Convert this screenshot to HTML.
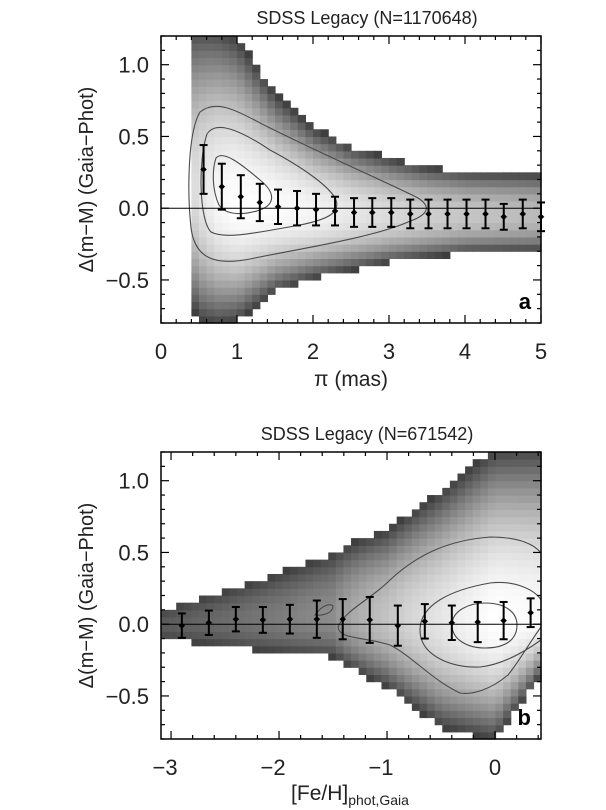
<!DOCTYPE html>
<html><head><meta charset="utf-8"><style>
html,body{margin:0;padding:0;background:#fff;}
svg{display:block;font-family:"Liberation Sans",sans-serif;}
</style></head><body>
<svg id="fig" width="606" height="810" viewBox="0 0 606 810" xmlns="http://www.w3.org/2000/svg">
<g id="pa"></g>
<g id="pb"></g>
</svg>
<script>
// ---- Panel a data ----
const aKnotX   = [0.4, 0.5, 0.75, 1.0, 1.5, 2.0, 2.5, 3.0, 3.5, 4.0, 4.5, 5.0];
const aAmp     = [0.45,0.55,0.85, 1.0, 0.95,0.8, 0.62,0.48, 0.38, 0.32,0.28,0.25];
const aCenter  = [0.15,0.12,0.06, 0.02,0.0, -0.03,-0.04,-0.05,-0.05,-0.05,-0.05,-0.05];
const aSigUp   = [0.45,0.45,0.44, 0.42,0.29, 0.22,0.18,0.16,0.14,0.13,0.13,0.13];
const aSigDn   = [0.33,0.35,0.32, 0.29,0.21,0.17,0.15,0.13,0.12,0.11,0.11,0.11];
const aPtX     = [0.56,0.8,1.05,1.3,1.54,1.79,2.04,2.29,2.54,2.78,3.03,3.28,3.52,3.77,4.02,4.27,4.51,4.76,5.0];
const aPtY     = [0.27,0.15,0.08,0.04,0.01,0.0,-0.01,-0.02,-0.03,-0.03,-0.03,-0.04,-0.04,-0.04,-0.04,-0.04,-0.06,-0.04,-0.06];
const aPtErr   = [0.17,0.16,0.15,0.13,0.12,0.12,0.11,0.1,0.1,0.1,0.1,0.1,0.1,0.1,0.1,0.1,0.09,0.1,0.1];
const aXTicks  = ["0","1","2","3","4","5"];
const aYTicks  = ["−0.5","0.0","0.5","1.0"];
// ---- Panel b data ----
const bKnotX   = [-3.1,-2.5,-2.0,-1.5,-1.0,-0.5,0.0,0.42];
const bAmp     = [0.035,0.05,0.07,0.1, 0.3, 0.6, 1.0,0.9];
const bCenter  = [0.0, 0.02,0.04,0.06,0.05,0.04,0.03,0.05];
const bSigUp   = [0.094,0.16,0.2,0.24,0.26,0.34,0.43,0.43];
const bSigDn   = [0.094,0.13,0.15,0.16,0.21,0.29,0.3,0.15];
const bPtX     = [-2.9,-2.65,-2.4,-2.15,-1.9,-1.65,-1.41,-1.16,-0.9,-0.65,-0.4,-0.16,0.08,0.33];
const bPtY     = [-0.01,0.01,0.035,0.03,0.035,0.035,0.035,0.03,-0.01,0.02,0.01,0.015,0.025,0.08];
const bPtErr   = [0.085,0.085,0.085,0.09,0.1,0.13,0.14,0.16,0.14,0.12,0.12,0.14,0.13,0.1];
const bXTicks  = ["−3","−2","−1","0"];
const bYTicks  = ["−0.5","0.0","0.5","1.0"];

const NS="http://www.w3.org/2000/svg";
function mk(tag,attrs,parent){const e=document.createElementNS(NS,tag);for(const k in attrs)e.setAttribute(k,attrs[k]);parent.appendChild(e);return e;}
function lerp(kx,kv,x){if(x<=kx[0])return kv[0];for(let i=1;i<kx.length;i++){if(x<=kx[i]){const t=(x-kx[i-1])/(kx[i]-kx[i-1]);return kv[i-1]+t*(kv[i]-kv[i-1]);}}return kv[kv.length-1];}

function panel(g,o){
  const sx=v=>o.x0+(v-o.xmin)/(o.xmax-o.xmin)*(o.x1-o.x0);
  const sy=v=>o.y1-(v-o.ymin)/(o.ymax-o.ymin)*(o.y1-o.y0);
  const hm=mk('g',{},g);
  
  
  const thr=o.thr;
  for(let x=o.hxStart;x<o.xmax-1e-9;x+=o.bx){
    const xc=x+o.bx/2;
    const A=lerp(o.kx,o.amp,xc),c=lerp(o.kx,o.cen,xc),su=lerp(o.kx,o.su,xc),sd=lerp(o.kx,o.sd,xc);
    for(let y=o.ymin;y<o.ymax-1e-9;y+=o.by){
      const yc=y+o.by/2,d=yc-c,s=d>0?su:sd;
      const I=A*Math.exp(-0.5*(d/s)*(d/s));
      if(I<thr)continue;
      let t=Math.log(I/thr)/Math.log(1/thr);t=Math.max(0,Math.min(1,t));
      const gv=Math.round(62+t*193);
      const r=mk('rect',{x:sx(x).toFixed(2),y:sy(y+o.by).toFixed(2),width:(sx(x+o.bx)-sx(x)+0.6).toFixed(2),height:(sy(y)-sy(y+o.by)+0.6).toFixed(2),fill:`rgb(${gv},${gv},${gv})`},hm);
      
      
    }
  }
  o.contours.forEach(p=>{const e=mk('path',{d:p,fill:'none',stroke:'#4a4a4a','stroke-width':1.1},g);
    });
  const zl=mk('line',{x1:o.x0,x2:o.x1,y1:sy(0),y2:sy(0),stroke:'#000','stroke-width':1},g);
  
  for(let i=0;i<o.px.length;i++){
    const X=sx(o.px[i]),Y=sy(o.py[i]),Yt=sy(o.py[i]+o.pe[i]),Yb=sy(o.py[i]-o.pe[i]);
    const eb=mk('g',{stroke:'#000','stroke-width':2},g);
    
    mk('line',{x1:X,x2:X,y1:Yt,y2:Yb},eb);
    mk('line',{x1:X-4,x2:X+4,y1:Yt,y2:Yt},eb);
    mk('line',{x1:X-4,x2:X+4,y1:Yb,y2:Yb},eb);
    mk('path',{d:`M${X},${Y-3}L${X+3},${Y}L${X},${Y+3}L${X-3},${Y}Z`,fill:'#000','stroke-width':0.5},eb);
  }
  const fr=mk('rect',{x:o.x0,y:o.y0,width:o.x1-o.x0,height:o.y1-o.y0,fill:'none',stroke:'#000','stroke-width':1.5},g);
  
  const tk=mk('g',{stroke:'#000','stroke-width':1.2},g);
  
  for(let v=Math.ceil(o.xmin/0.2)*0.2;v<=o.xmax+1e-9;v+=0.2){
    const maj=Math.abs(v-Math.round(v))<1e-6,L=maj?8:4,X=sx(v);
    mk('line',{x1:X,x2:X,y1:o.y1,y2:o.y1-L},tk);mk('line',{x1:X,x2:X,y1:o.y0,y2:o.y0+L},tk);
  }
  for(let v=Math.ceil(o.ymin/0.1-1e-6)*0.1;v<=o.ymax+1e-9;v+=0.1){
    const maj=Math.abs(v*2-Math.round(v*2))<1e-6,L=maj?8:4,Y=sy(v);
    mk('line',{x1:o.x0,x2:o.x0+L,y1:Y,y2:Y},tk);mk('line',{x1:o.x1,x2:o.x1-L,y1:Y,y2:Y},tk);
  }
  o.xt.forEach(s=>{const v=parseFloat(s.replace('−','-'));
    const t=mk('text',{x:sx(v)-(s.startsWith('−')?6:0),y:o.y1+36,'text-anchor':'middle','font-size':22,fill:'#222'},g);t.textContent=s;
    });
  o.yt.forEach(s=>{const v=parseFloat(s.replace('−','-'));
    const t=mk('text',{x:o.x0-12,y:sy(v)+8,'text-anchor':'end','font-size':22,fill:'#222'},g);t.textContent=s;
    });
  const ti=mk('text',{x:(o.x0+o.x1)/2+16,y:o.y0-12,'text-anchor':'middle','font-size':18,fill:'#222'},g);ti.textContent=o.title;
  
  const yl=mk('text',{x:0,y:0,'text-anchor':'middle','font-size':20,fill:'#222',transform:`translate(${o.x0-68},${(o.y0+o.y1)/2}) rotate(-90)`},g);
  yl.textContent='Δ(m−M)  (Gaia−Phot)';
  
  const lb=mk('text',{x:o.x1-10,y:o.y1-14,'text-anchor':'end','font-size':22,'font-weight':'bold',fill:'#000'},g);lb.textContent=o.label;
  
  return {sx,sy};
}

panel(document.getElementById('pa'),{x0:161,x1:541,y0:36,y1:323,xmin:0,xmax:5,ymin:-0.8,ymax:1.2,
  bx:0.1,by:0.05,hxStart:0.4,thr:0.02,kx:aKnotX,amp:aAmp,cen:aCenter,su:aSigUp,sd:aSigDn,
  px:aPtX,py:aPtY,pe:aPtErr,xt:aXTicks,yt:aYTicks,title:'SDSS Legacy (N=1170648)',label:'a',
  contours:[
   "M200,112 C215,100 232,108 262,124 C330,158 395,186 418,198 C432,207 428,215 408,222 C372,238 292,250 250,259 C214,266 195,258 191,228 C187,190 188,132 200,112 Z",
   "M207,134 C216,120 240,130 270,150 C300,166 330,186 336,200 C340,212 330,219 300,225 C260,232 226,240 211,232 C199,220 198,160 207,134 Z",
   "M216,158 C223,150 240,163 260,180 C275,192 276,204 260,210 C245,215 226,216 219,205 C212,190 212,170 216,158 Z"]});
const ga=document.getElementById('pa');
const xa=mk('text',{x:351,y:386,'text-anchor':'middle','font-size':21,fill:'#222'},ga);xa.textContent='π (mas)';


panel(document.getElementById('pb'),{x0:161,x1:541,y0:452,y1:739,xmin:-3.093,xmax:0.426,ymin:-0.8,ymax:1.2,
  bx:0.0704,by:0.05,hxStart:-3.093,thr:0.02,kx:bKnotX,amp:bAmp,cen:bCenter,su:bSigUp,sd:bSigDn,
  px:bPtX,py:bPtY,pe:bPtErr,xt:bXTicks,yt:bYTicks,title:'SDSS Legacy (N=671542)',label:'b',
  contours:[
   "M338,627 C345,610 370,600 390,580 C420,552 452,540 490,537 C520,537 535,545 541,553 L541,627 C530,642 520,660 508,675 C490,690 472,695 460,693 C432,680 412,656 390,645 C362,636 340,640 338,627 Z",
   "M420,630 C420,605 450,590 490,583 C515,580 535,590 541,600 L541,640 C520,655 500,665 480,667 C450,668 420,655 420,630 Z",
   "M452,625 C452,610 470,603 485,603 C505,603 517,612 517,625 C517,640 505,648 485,648 C468,648 452,640 452,625 Z",
   "M315,615 C322,605 330,603 333,606 C333,612 325,616 315,615 Z"]});
const gb=document.getElementById('pb');
const xb=mk('text',{x:350,y:800,'text-anchor':'middle','font-size':21,fill:'#222'},gb);
xb.innerHTML='[Fe/H]<tspan font-size="14" dy="5">phot,Gaia</tspan>';

</script>
</body></html>
